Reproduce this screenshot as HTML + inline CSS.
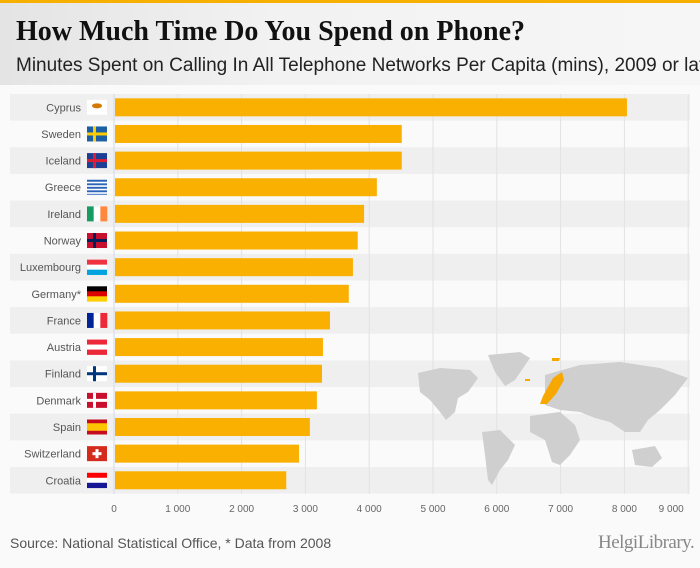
<!DOCTYPE html>
<html><head><meta charset="utf-8">
<style>
body{margin:0;width:700px;height:568px;background:#fafafa;font-family:"Liberation Sans",sans-serif;overflow:hidden;position:relative}
#hdr{position:absolute;left:0;top:0;width:700px;height:85px;background:linear-gradient(90deg,#e4e4e4,#f2f2f2 40%,#f6f6f6);border-top:3px solid #f7b000;box-sizing:border-box}
#title{position:absolute;left:16px;top:13px;font-family:"Liberation Serif",serif;font-weight:bold;font-size:28px;color:#111;white-space:nowrap}
#sub{position:absolute;left:16px;top:52px;font-size:19px;color:#222;white-space:nowrap}
#src{position:absolute;left:10px;top:535px;font-size:14px;color:#555}
#logo{position:absolute;left:598px;top:532px;font-family:"Liberation Serif",serif;font-size:19px;color:#888;letter-spacing:-0.5px}
</style></head><body>
<div id="hdr">
<div id="title">How Much Time Do You Spend on Phone?</div>
<div id="sub">Minutes Spent on Calling In All Telephone Networks Per Capita (mins), 2009 or later</div>
</div>
<svg id="chart" width="700" height="568" style="position:absolute;left:0;top:0">
<g id="bands"></g>
<g id="grid"></g>
<g id="map" fill="#cfcfcf">
<path d="M418,373 L440,368 L470,370 L478,378 L468,392 L458,398 L455,412 L446,420 L440,412 L430,400 L420,392 Z"/>
<path d="M488,355 L520,352 L530,358 L515,380 L505,386 L495,372 Z"/>
<path d="M482,432 L500,430 L515,445 L508,460 L500,470 L492,485 L488,480 L485,455 Z"/>
<path d="M530,416 L560,412 L575,425 L580,440 L570,455 L560,465 L552,462 L545,440 L530,432 Z"/>
<path d="M545,375 L580,365 L620,362 L660,368 L688,378 L675,395 L660,410 L648,420 L640,432 L625,432 L610,422 L595,418 L580,412 L560,410 L545,405 Z"/>
<path d="M632,450 L655,446 L662,458 L652,467 L635,465 Z"/>
</g>
<g id="mapeu" fill="#f7a800">
<path d="M553,378 L562,372 L564,380 L556,394 L547,404 L540,404 L543,396 Z"/>
<path d="M552,358 L560,358 L559,361 L552,361 Z"/>
<path d="M525,379 L530,379 L530,381 L525,381 Z"/>
</g>
<g id="bars"></g>
<g id="labels"></g>
<g id="flags"></g>
<g id="xticks"></g>
</svg>
<div id="src">Source: National Statistical Office, * Data from 2008</div>
<div id="logo">HelgiLibrary.</div>
<script>
const categories=["Cyprus","Sweden","Iceland","Greece","Ireland","Norway","Luxembourg","Germany*","France","Austria","Finland","Denmark","Spain","Switzerland","Croatia"];
const values=[8040,4510,4510,4120,3920,3820,3745,3680,3385,3275,3260,3180,3070,2900,2700];
const ticks=[0,1000,2000,3000,4000,5000,6000,7000,8000,9000];
const tickLabels=["0","1 000","2 000","3 000","4 000","5 000","6 000","7 000","8 000","9 000"];
const NS="http://www.w3.org/2000/svg";
const x0=114,pxPer=63.8/1000,rowTop=94,rowH=26.64,barH=18;
const xs=v=>x0+v*pxPer;
const yc=i=>rowTop+rowH*i+rowH/2;
function mk(t,p,a){const e=document.createElementNS(NS,t);for(const k in a)e.setAttribute(k,a[k]);p.appendChild(e);return e;}
const G=id=>document.getElementById(id);
categories.forEach((c,i)=>{
 if(i%2===0){const b=mk('rect',G('bands'),{x:10,y:rowTop+rowH*i,width:680,height:rowH,fill:'#efefef'});
 
 }
});
ticks.forEach((t,i)=>{
 const l=mk('line',G('grid'),{x1:xs(t),x2:xs(t),y1:94,y2:494,stroke:i===0?'#d0d8e8':'#e2e2e2','stroke-width':1});
 
 
 const tx=mk('text',G('xticks'),{x:i===9?xs(t)-17:xs(t),y:512,'text-anchor':'middle','font-size':10,fill:'#666'});
 tx.textContent=tickLabels[i];
 
 
});
const flagDefs={
 "Cyprus":[['#fff']],"Sweden":[['#1c5fa5']],"Iceland":[['#1c3f94']],"Greece":[['#2a63b8']],
 "Ireland":'v:#169b62,#fff,#ff883e',"Norway":[['#c8102e']],"Luxembourg":'h:#ef3340,#fff,#00a3e0',
 "Germany*":'h:#000,#dd0000,#ffce00',"France":'v:#002395,#fff,#ed2939',"Austria":'h:#ed2939,#fff,#ed2939',
 "Finland":[['#fff']],"Denmark":[['#c8102e']],"Spain":'h3:#c60b1e,#ffc400,#c60b1e',"Switzerland":[['#d52b1e']],"Croatia":'h:#ff0000,#fff,#171796'};
const crosses={"Sweden":'#fecc00',"Iceland":'#dc1e35',"Norway":'#00205b',"Finland":'#003580',"Denmark":'#fff'};
categories.forEach((c,i)=>{
 const y=yc(i);
 const b=mk('rect',G('bars'),{x:x0+1,y:y-barH/2,width:xs(values[i])-x0-1,height:barH,fill:'#f9b000'});
 
 
 const t=mk('text',G('labels'),{x:81,y:y+4,'text-anchor':'end','font-size':11,fill:'#555'});
 t.textContent=c;
 
 
 const g=mk('g',G('flags'),{});
 
 
 const fx=87,fy=y-7.5,fw=20,fh=15,d=flagDefs[c];
 if(typeof d==='string'){
  const [m,cols]=d.split(':');const cs=cols.split(',');
  if(m==='v')cs.forEach((col,k)=>mk('rect',g,{x:fx+k*fw/3,y:fy,width:fw/3+0.3,height:fh,fill:col}));
  else if(m==='h')cs.forEach((col,k)=>mk('rect',g,{x:fx,y:fy+k*fh/3,width:fw,height:fh/3+0.3,fill:col}));
  else {mk('rect',g,{x:fx,y:fy,width:fw,height:fh,fill:cs[0]});mk('rect',g,{x:fx,y:fy+fh/4,width:fw,height:fh/2,fill:cs[1]});}
 } else {
  mk('rect',g,{x:fx,y:fy,width:fw,height:fh,fill:d[0][0]});
  if(crosses[c]){mk('rect',g,{x:fx+6,y:fy,width:3,height:fh,fill:crosses[c]});mk('rect',g,{x:fx,y:fy+6,width:fw,height:3,fill:crosses[c]});}
  if(c==='Cyprus')mk('ellipse',g,{cx:fx+10,cy:fy+6,rx:5,ry:2.5,fill:'#d57800'});
  if(c==='Greece'){for(let k=0;k<4;k++)mk('rect',g,{x:fx,y:fy+2+k*3.5,width:fw,height:1.6,fill:'#fff'});}
  if(c==='Switzerland'){mk('rect',g,{x:fx+8.5,y:fy+3,width:3,height:9,fill:'#fff'});mk('rect',g,{x:fx+5.5,y:fy+6,width:9,height:3,fill:'#fff'});}
 }
});
</script>
</body></html>
